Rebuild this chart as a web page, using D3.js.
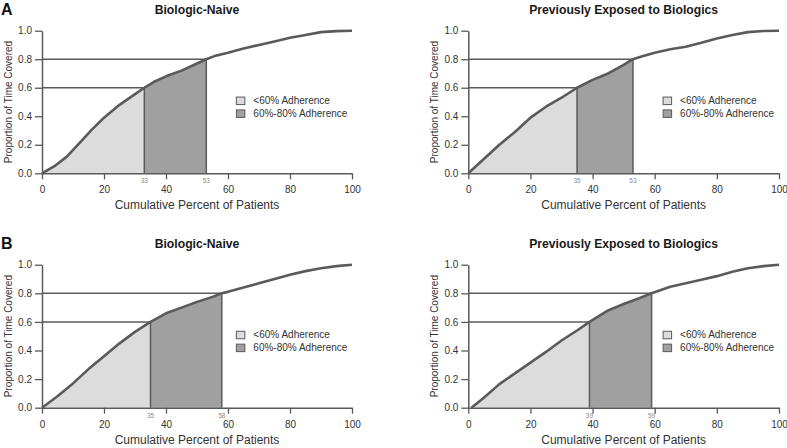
<!DOCTYPE html>
<html>
<head>
<meta charset="utf-8">
<script src="https://cdn.jsdelivr.net/npm/d3@7"></script>
<style>
  html, body { margin: 0; padding: 0; background: #fff; }
  svg { display: block; font-family: "Liberation Sans", Arial, sans-serif; }
</style>
</head>
<body>
<svg id="chart" width="787" height="448"></svg>
<script>
// ---------- DATA ----------
const xTicks = [0, 20, 40, 60, 80, 100];
const yTicks = [0.0, 0.2, 0.4, 0.6, 0.8, 1.0];
const legendLabels = ["<60% Adherence", "60%-80% Adherence"];
const panelTitles = ["Biologic-Naive", "Previously Exposed to Biologics"];
const rowLabels = ["A", "B"];
const thresholds = [0.6, 0.8];

// Panel A, Biologic-Naive
const aNaiveX = [0, 4, 8, 12, 16, 20, 25, 30, 33, 36, 40, 45, 50, 53, 56, 60, 65, 70, 75, 80, 85, 90, 95, 100];
const aNaiveY = [0, 0.05, 0.117, 0.21, 0.305, 0.39, 0.48, 0.555, 0.60, 0.64, 0.68, 0.72, 0.77, 0.80, 0.825, 0.846, 0.875, 0.90, 0.925, 0.95, 0.97, 0.99, 0.997, 1.0];
const aNaiveCut = [33, 53];

// Panel A, Previously Exposed
const aExpX = [0, 5, 10, 15, 20, 25, 30, 35, 40, 45, 50, 53, 56, 60, 65, 70, 75, 80, 85, 90, 95, 100];
const aExpY = [0, 0.10, 0.20, 0.29, 0.39, 0.467, 0.53, 0.60, 0.655, 0.70, 0.76, 0.80, 0.82, 0.846, 0.87, 0.888, 0.915, 0.946, 0.97, 0.99, 0.998, 1.0];
const aExpCut = [35, 53];

// Panel B, Biologic-Naive
const bNaiveX = [0, 5, 10, 15, 20, 25, 30, 35, 40, 45, 50, 55, 58, 60, 65, 70, 75, 80, 85, 90, 95, 100];
const bNaiveY = [0, 0.08, 0.17, 0.27, 0.36, 0.45, 0.53, 0.60, 0.66, 0.70, 0.74, 0.775, 0.80, 0.81, 0.84, 0.87, 0.90, 0.93, 0.955, 0.975, 0.99, 1.0];
const bNaiveCut = [35, 58];

// Panel B, Previously Exposed
const bExpX = [1, 5, 10, 15, 20, 25, 30, 35, 39, 45, 50, 55, 59, 65, 70, 75, 80, 85, 90, 95, 100];
const bExpY = [0, 0.07, 0.165, 0.24, 0.315, 0.39, 0.47, 0.54, 0.60, 0.68, 0.725, 0.765, 0.80, 0.846, 0.87, 0.895, 0.92, 0.95, 0.975, 0.99, 1.0];
const bExpCut = [39, 59];

// ---------- LAYOUT ----------
const svg = d3.select("#chart");
const panels = [
  { x: aNaiveX, y: aNaiveY, cut: aNaiveCut, title: panelTitles[0], xr: [42, 352], yr: [173.3, 30.7], letter: rowLabels[0] },
  { x: aExpX,   y: aExpY,   cut: aExpCut,   title: panelTitles[1], xr: [468.3, 779], yr: [173.3, 30.7] },
  { x: bNaiveX, y: bNaiveY, cut: bNaiveCut, title: panelTitles[0], xr: [42, 352], yr: [407.7, 264.7], letter: rowLabels[1] },
  { x: bExpX,   y: bExpY,   cut: bExpCut,   title: panelTitles[1], xr: [468.3, 779], yr: [407.7, 264.7] }
];

const lineCol = "#5a5a5a";
const lightFill = "#dcdcdc";
const darkFill = "#a0a0a0";
const textCol = "#333";

function interp(xs, ys, xv) {
  for (let i = 1; i < xs.length; i++) {
    if (xv <= xs[i]) {
      const t = (xv - xs[i - 1]) / (xs[i] - xs[i - 1]);
      return ys[i - 1] + t * (ys[i] - ys[i - 1]);
    }
  }
  return ys[ys.length - 1];
}

panels.forEach(p => {
  const sx = d3.scaleLinear().domain([0, 100]).range(p.xr);
  const sy = d3.scaleLinear().domain([0, 1]).range(p.yr);
  const g = svg.append("g");
  const pts = p.x.map((v, i) => [v, p.y[i]]);

  // areas
  const areaGen = d3.area().x(d => sx(d[0])).y0(sy(0)).y1(d => sy(d[1]));
  const seg = (a, b) => {
    const s = [[a, interp(p.x, p.y, a)]];
    pts.forEach(d => { if (d[0] > a && d[0] < b) s.push(d); });
    s.push([b, interp(p.x, p.y, b)]);
    return s;
  };
  g.append("path").datum(seg(p.x[0], p.cut[0])).attr("d", areaGen).attr("fill", lightFill);
  g.append("path").datum(seg(p.cut[0], p.cut[1])).attr("d", areaGen).attr("fill", darkFill);

  // threshold lines
  p.cut.forEach((c, i) => {
    const yv = thresholds[i];
    g.append("line").attr("x1", sx(0)).attr("x2", sx(c)).attr("y1", sy(yv)).attr("y2", sy(yv))
      .attr("stroke", lineCol).attr("stroke-width", 1.5);
    g.append("line").attr("x1", sx(c)).attr("x2", sx(c)).attr("y1", sy(0)).attr("y2", sy(yv))
      .attr("stroke", lineCol).attr("stroke-width", 1.5);
    g.append("text").attr("x", sx(c)).attr("y", sy(0) + 10).attr("text-anchor", "middle")
      .attr("font-size", 6.5).attr("fill", "#8a8a8a").text(c);
  });

  // curve
  g.append("path").datum(pts)
    .attr("d", d3.line().x(d => sx(d[0])).y(d => sy(d[1])))
    .attr("fill", "none").attr("stroke", lineCol).attr("stroke-width", 2.6).attr("stroke-linejoin", "round");

  // x axis
  const xa = g.append("g").attr("transform", `translate(0,${sy(0)})`)
    .call(d3.axisBottom(sx).tickValues(xTicks).tickSize(6).tickSizeOuter(0).tickPadding(7).tickFormat(d3.format("d")));
  xa.select(".domain").attr("stroke", lineCol).attr("stroke-width", 1.5);
  xa.selectAll(".tick line").attr("stroke", lineCol).attr("stroke-width", 1.3);
  xa.selectAll("text").attr("font-size", 10).attr("fill", textCol).attr("font-family", "Liberation Sans, Arial, sans-serif");

  // y axis
  const ya = g.append("g").attr("transform", `translate(${sx(0)},0)`)
    .call(d3.axisLeft(sy).tickValues(yTicks).tickSize(7).tickSizeOuter(0).tickPadding(3).tickFormat(d3.format(".1f")));
  ya.select(".domain").attr("stroke", lineCol).attr("stroke-width", 1.5);
  ya.selectAll(".tick line").attr("stroke", lineCol).attr("stroke-width", 1.3);
  ya.selectAll("text").attr("font-size", 10).attr("fill", textCol).attr("font-family", "Liberation Sans, Arial, sans-serif");

  // axis titles
  g.append("text").attr("transform", `translate(${p.xr[0] - 34},${(p.yr[0] + p.yr[1]) / 2}) rotate(-90)`)
    .attr("text-anchor", "middle").attr("font-size", 10).attr("fill", textCol).attr("dy", "0.35em")
    .text("Proportion of Time Covered");
  g.append("text").attr("x", (p.xr[0] + p.xr[1]) / 2).attr("y", sy(0) + 36)
    .attr("text-anchor", "middle").attr("font-size", 12).attr("fill", textCol)
    .text("Cumulative Percent of Patients");

  // title
  g.append("text").attr("x", (p.xr[0] + p.xr[1]) / 2).attr("y", p.yr[1] - 16.5)
    .attr("text-anchor", "middle").attr("font-size", 12.2).attr("font-weight", "bold").attr("fill", "#1a1a1a")
    .text(p.title);

  if (p.letter) {
    g.append("text").attr("x", 1).attr("y", p.yr[1] - 15.5)
      .attr("font-size", 16).attr("font-weight", "bold").attr("fill", "#111").text(p.letter);
  }

  // legend
  const fills = [lightFill, darkFill];
  const legY = [0.51, 0.42];
  legendLabels.forEach((lab, i) => {
    const cy = sy(legY[i]);
    g.append("rect").attr("x", sx(62.7)).attr("y", cy - 3.5).attr("width", 8.5).attr("height", 7.5)
      .attr("fill", fills[i]).attr("stroke", lineCol).attr("stroke-width", 1);
    g.append("text").attr("x", sx(62.7) + 17).attr("y", cy).attr("dy", "0.35em")
      .attr("font-size", 10).attr("fill", textCol).text(lab);
  });
});
</script>
</body>
</html>
